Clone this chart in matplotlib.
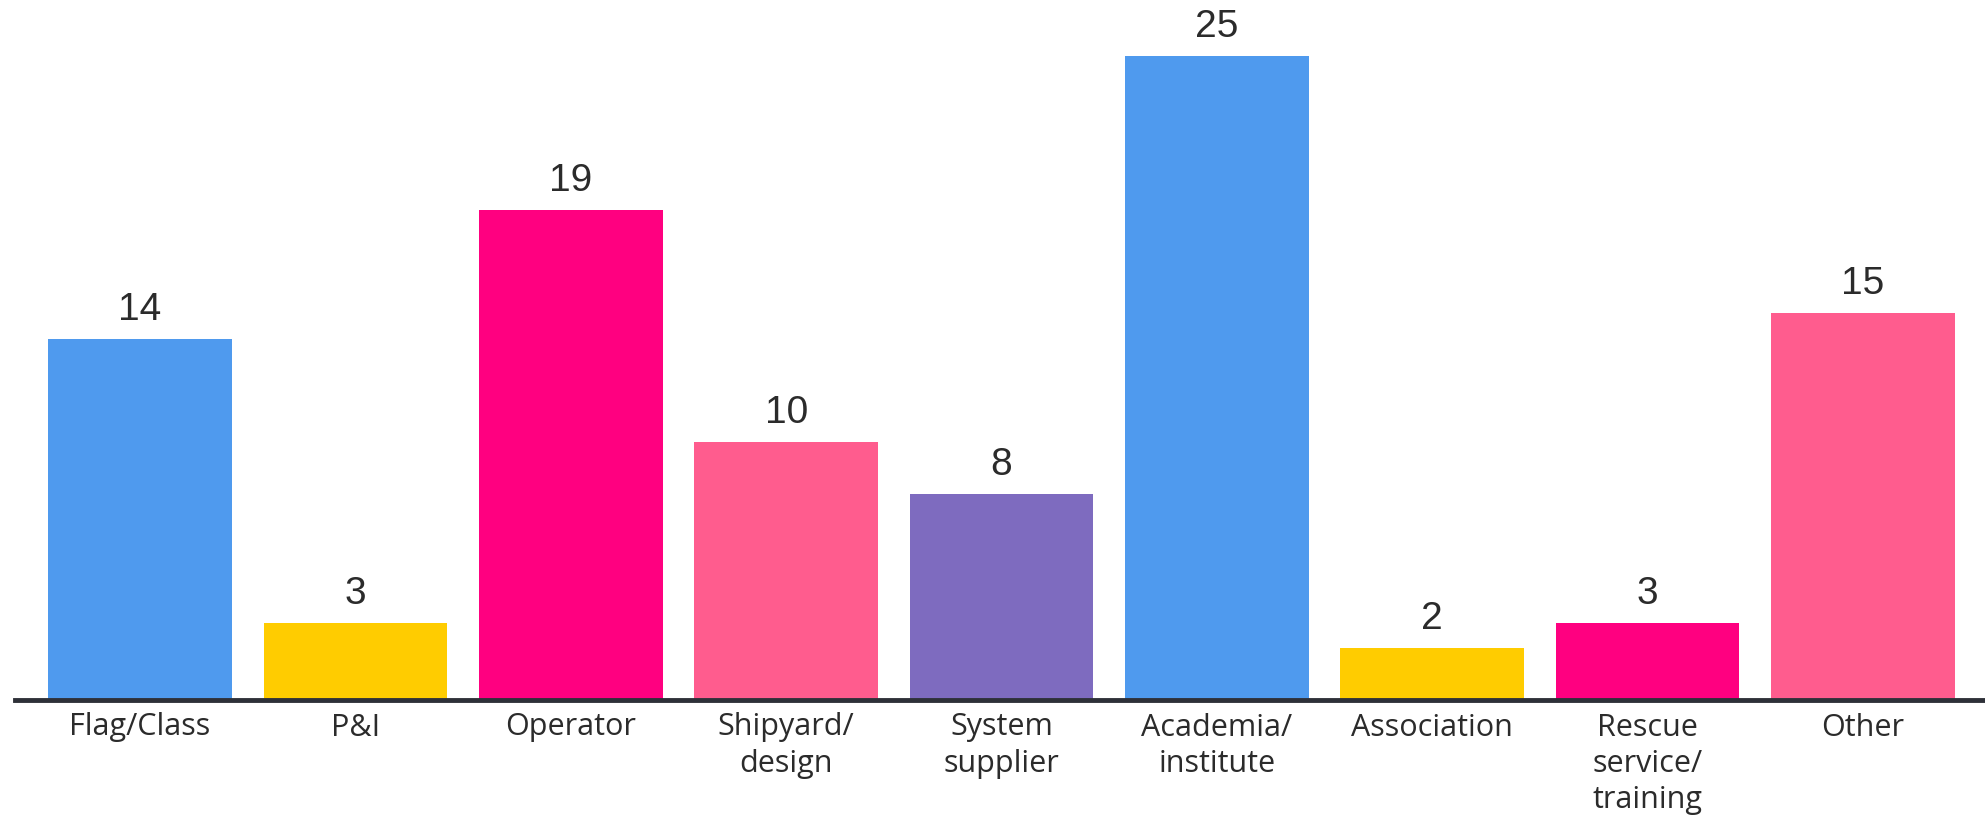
import matplotlib
matplotlib.use("Agg")
import matplotlib.pyplot as plt

categories = ["Flag/Class", "P&I", "Operator", "Shipyard/\ndesign", "System\nsupplier",
              "Academia/\ninstitute", "Association", "Rescue\nservice/\ntraining", "Other"]
values = [14, 3, 19, 10, 8, 25, 2, 3, 15]
colors = ["#4f9aee", "#ffcc00", "#ff0080", "#ff5c8e", "#7e6bbf",
          "#4f9aee", "#ffcc00", "#ff0080", "#ff5c8e"]

plt.rcParams['font.family'] = ['Open Sans', 'DejaVu Sans']
fig = plt.figure(figsize=(19.85, 8.16), dpi=100)
ax = fig.add_axes([15/1985, 116/816, 1 - 15/1985, 700/816])

x = list(range(len(values)))
bars = ax.bar(x, values, width=0.853, color=colors, zorder=2)
for xi, v in zip(x, values):
    ax.annotate(str(v), (xi, v), xytext=(0, 8), textcoords="offset points",
                ha="center", va="bottom", fontsize=28, color="#2b2b2b",
                family=['Liberation Sans', 'DejaVu Sans'])

ax.set_xlim(-0.581, 8.567)
ax.set_ylim(0, 27.16)
ax.set_xticks(x)
ax.set_xticklabels(categories, fontsize=22, color="#2b2b2b", linespacing=1.28)
ax.tick_params(axis="x", length=0, pad=9)
ax.set_yticks([])
for s in ["top", "right", "left"]:
    ax.spines[s].set_visible(False)
ax.spines["bottom"].set_color("#2e3038")
ax.spines["bottom"].set_linewidth(3.5)
ax.spines["bottom"].set_zorder(3)

fig.savefig("out.png", dpi=100)
